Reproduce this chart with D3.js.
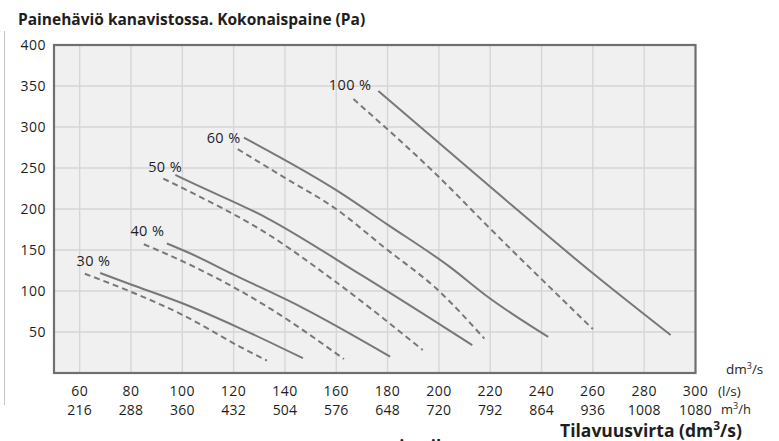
<!DOCTYPE html>
<html>
<head>
<meta charset="utf-8">
<script src="https://cdn.jsdelivr.net/npm/d3@7"></script>
<style>
  html, body { margin: 0; padding: 0; background: #ffffff; }
  svg { display: block; }
  text { font-family: "Open Sans", "Noto Sans", sans-serif; fill: #1e1e1e; }
</style>
</head>
<body>
<svg id="chart" width="779" height="441"></svg>
<script>
// ---- data ----
const titleText = "Painehäviö kanavistossa. Kokonaispaine (Pa)";
const flowTicks = [60, 80, 100, 120, 140, 160, 180, 200, 220, 240, 260, 280, 300];      // dm3/s = l/s
const flowTicksM3h = ["216", "288", "360", "432", "504", "576", "648", "720", "792", "864", "936", "1008", "1080"];
const pressureTicks = [50, 100, 150, 200, 250, 300, 350, 400];
const categories = ["30 %", "40 %", "50 %", "60 %", "100 %"];

// solid curves  [flow dm3/s, pressure Pa]
const solid30 = [[68, 122], [80, 108], [100, 85], [122.5, 54.5], [147, 18]];
const solid40 = [[94, 158], [103, 146], [120, 120], [146, 81], [181, 20]];
const solid50 = [[97.3, 241.5], [103, 233], [133, 189], [170, 119], [204, 52], [213, 34]];
const solid60 = [[124, 287], [160, 223], [180, 181], [204, 130], [219, 93], [242.6, 44]];
const solid100 = [[176.4, 344], [220, 227], [260, 121.6], [290.3, 46.3]];
// dashed curves
const dashed30 = [[62, 121], [80, 99], [100, 71], [122.5, 32], [133, 15]];
const dashed40 = [[85, 157], [103, 132], [133, 81], [163, 17]];
const dashed50 = [[92.6, 237], [103, 221], [133, 170], [159, 113], [193.7, 28]];
const dashed60 = [[121.6, 273], [140, 238], [159, 202], [180, 150], [199, 103], [217.7, 42]];
const dashed100 = [[166.7, 334], [200, 239], [220, 176], [260, 53.6]];
// label anchor (in data units)
const labelFlow = [65.4, 86.4, 93.3, 116.1, 165.4];
const labelPressure = [137.8, 173.5, 252.4, 287, 352.4];

const solidSeries = [solid30, solid40, solid50, solid60, solid100];
const dashedSeries = [dashed30, dashed40, dashed50, dashed60, dashed100];

// ---- drawing ----
const svg = d3.select("#chart");
const x = d3.scaleLinear().domain([50, 300]).range([54, 695.5]);
const y = d3.scaleLinear().domain([0, 400]).range([373, 45]);

// left thin rule
svg.append("line").attr("x1", 4.5).attr("x2", 4.5).attr("y1", 31).attr("y2", 405)
  .attr("stroke", "#c4c4c4").attr("stroke-width", 1);

// title
svg.append("text").attr("x", 18).attr("y", 25)
  .style("font-size", "15.5px").style("font-weight", "700")
  .text(titleText);

// plot background
svg.append("rect").attr("x", x(50)).attr("y", y(400))
  .attr("width", x(300) - x(50)).attr("height", y(0) - y(400))
  .attr("fill", "#f0f0f0");

// grid
const grid = svg.append("g").attr("stroke", "#d6d6d6").attr("stroke-width", 1.4);
grid.selectAll("line.v").data(flowTicks.filter(v => v < 300)).enter().append("line")
  .attr("x1", d => x(d)).attr("x2", d => x(d)).attr("y1", y(400)).attr("y2", y(0));
grid.selectAll("line.h").data(pressureTicks.filter(v => v < 400)).enter().append("line")
  .attr("x1", x(50)).attr("x2", x(300)).attr("y1", d => y(d)).attr("y2", d => y(d));

// border
svg.append("rect").attr("x", x(50)).attr("y", y(400))
  .attr("width", x(300) - x(50)).attr("height", y(0) - y(400))
  .attr("fill", "none").attr("stroke", "#6f6f6f").attr("stroke-width", 2.2);

// curves
const line = d3.line().x(d => x(d[0])).y(d => y(d[1])).curve(d3.curveMonotoneX);
svg.append("g").selectAll("path").data(solidSeries).enter().append("path")
  .attr("d", line).attr("fill", "none").attr("stroke", "#787878").attr("stroke-width", 2);
svg.append("g").selectAll("path").data(dashedSeries).enter().append("path")
  .attr("d", line).attr("fill", "none").attr("stroke", "#787878").attr("stroke-width", 2)
  .attr("stroke-dasharray", "6,4");

// curve labels
svg.append("g").selectAll("text").data(categories).enter().append("text")
  .attr("x", (d, i) => x(labelFlow[i])).attr("y", (d, i) => y(labelPressure[i]))
  .attr("text-anchor", "middle").attr("dominant-baseline", "central")
  .style("font-size", "14.5px").style("letter-spacing", "0.4px")
  .text(d => d);

// y axis labels
const yAxis = d3.axisLeft(y).tickValues(pressureTicks).tickSize(0).tickPadding(8);
const yg = svg.append("g").attr("transform", `translate(${x(50)},0)`).call(yAxis);
yg.select(".domain").remove();
yg.selectAll("text").style("font-size", "14px").style("letter-spacing", "0.5px")
  .attr("fill", "#1e1e1e").style("font-family", '"Open Sans", sans-serif');

// x axis labels rows
svg.append("g").selectAll("text").data(flowTicks).enter().append("text")
  .attr("x", d => x(d)).attr("y", 396).attr("text-anchor", "middle")
  .style("font-size", "14px").style("letter-spacing", "0.5px").text(d => d);
svg.append("g").selectAll("text").data(flowTicks).enter().append("text")
  .attr("x", d => x(d)).attr("y", 415).attr("text-anchor", "middle")
  .style("font-size", "14px").style("letter-spacing", "0.2px").text((d, i) => flowTicksM3h[i]);

// unit labels
const u1 = svg.append("text").attr("x", 726).attr("y", 374).style("font-size", "13.5px");
u1.append("tspan").text("dm");
u1.append("tspan").attr("dy", -5).style("font-size", "9px").text("3");
u1.append("tspan").attr("dy", 5).text("/s");
svg.append("text").attr("x", 718).attr("y", 396).style("font-size", "13.5px").text("(l/s)");
const u3 = svg.append("text").attr("x", 721).attr("y", 414).style("font-size", "13px");
u3.append("tspan").text("m");
u3.append("tspan").attr("dy", -5).style("font-size", "9px").text("3");
u3.append("tspan").attr("dy", 5).text("/h");

// x axis title
const xt = svg.append("text").attr("x", 560).attr("y", 437)
  .style("font-size", "17.5px").style("font-weight", "700");
xt.append("tspan").text("Tilavuusvirta (dm");
xt.append("tspan").attr("dy", -7).style("font-size", "12px").text("3");
xt.append("tspan").attr("dy", 7).text("/s)");

// cut-off caption at bottom edge (only its top shows in the reference)
svg.append("text").attr("x", 378).attr("y", 453)
  .style("font-size", "17px").style("font-weight", "700").text("poistoilma");
</script>
</body>
</html>
